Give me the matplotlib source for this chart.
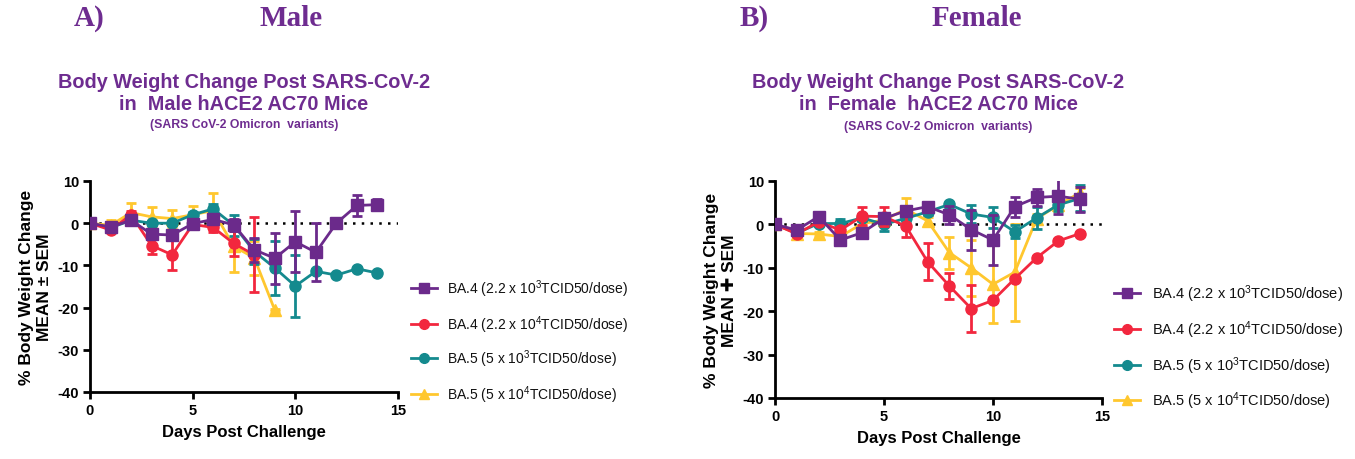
import matplotlib
matplotlib.use("Agg")
import matplotlib.pyplot as plt
import numpy as np
from matplotlib.lines import Line2D

plt.rcParams['font.family'] = ['Liberation Sans', 'DejaVu Sans']
plt.rcParams['mathtext.fontset'] = 'custom'
plt.rcParams['mathtext.rm'] = 'Liberation Sans'
plt.rcParams['mathtext.it'] = 'Liberation Sans:italic'
plt.rcParams['mathtext.bf'] = 'Liberation Sans:bold'
plt.rcParams['axes.unicode_minus'] = False

days = list(range(15))

labels = [r"BA.4 (2.2 x 10$^{3}$TCID50/dose)",
          r"BA.4 (2.2 x 10$^{4}$TCID50/dose)",
          r"BA.5 (5 x 10$^{3}$TCID50/dose)",
          r"BA.5 (5 x 10$^{4}$TCID50/dose)"]

# ---- Male data ----
male_ba4_low = [0, -0.9, 0.7, -2.6, -2.8, -0.1, 0.9, -0.4, -6.3, -8.3, -4.4, -6.9, 0.0, 4.2, 4.4]
male_ba4_low_err = [0, 0.5, 0.8, 1.0, 1.0, 0.8, 0.8, 1.5, 2.9, 6.0, 7.2, 6.9, 0.3, 2.5, 1.3]
male_ba4_high = [0, -1.6, 2.0, -5.3, -7.5, -0.3, -1.0, -4.8, -7.5]
male_ba4_high_err = [0, 0.6, 1.0, 2.0, 3.5, 0.8, 1.0, 3.0, 8.9]
male_ba5_low = [0, -1.1, 0.7, 0.0, 0.0, 2.0, 3.4, -0.5, -6.7, -10.6, -14.9, -11.4, -12.3, -10.8, -11.8]
male_ba5_low_err = [0, 0.5, 0.5, 0.5, 0.5, 0.6, 1.2, 2.5, 3.0, 6.5, 7.4, 0.5, 0.3, 0.3, 0.3]
male_ba5_high = [0, -0.5, 2.5, 1.5, 1.1, 2.0, 3.0, -5.5, -8.2, -20.6]
male_ba5_high_err = [0, 1.3, 2.3, 2.3, 2.0, 2.0, 4.2, 6.0, 4.0, 0.3]

# ---- Female data ----
fem_ba4_low = [0, -1.3, 1.8, -3.6, -1.9, 1.4, 3.1, 4.1, 2.2, -1.2, -3.6, 4.1, 6.2, 6.5, 5.8]
fem_ba4_low_err = [0, 0.5, 0.6, 0.8, 0.8, 0.8, 1.0, 1.0, 2.0, 4.6, 5.8, 2.3, 2.0, 4.0, 2.9]
fem_ba4_high = [0, -2.2, 0.6, -1.3, 1.9, 1.8, -0.4, -8.6, -14.2, -19.4, -17.5, -12.5, -7.7, -3.8, -2.1]
fem_ba4_high_err = [0, 0.5, 0.5, 0.8, 2.0, 2.2, 2.5, 4.3, 3.0, 5.5, 0.4, 0.4, 0.4, 0.4, 0.4]
fem_ba5_low = [0, -2.0, 0.2, 0.2, 1.5, 0.0, 1.4, 2.9, 4.6, 2.4, 1.6, -1.7, 1.5, 4.5, 6.0]
fem_ba5_low_err = [0, 0.5, 0.5, 1.0, 0.8, 1.5, 1.0, 0.8, 0.5, 2.0, 2.5, 1.5, 2.5, 1.5, 3.0]
fem_ba5_high = [0, -2.1, -2.2, -2.8, 0.2, 1.0, 3.5, 0.8, -6.5, -10.0, -13.8, -11.0, 1.3, 4.5, 7.3]
fem_ba5_high_err = [0, 0.5, 0.5, 0.5, 0.5, 1.0, 2.5, 1.0, 3.7, 6.4, 9.0, 11.2, 1.0, 1.5, 1.0]

colors = ['#6B2A8B', '#F2273E', '#148A8E', '#FFC72E']
markers = ['s', 'o', 'o', '^']
msizes = [8.5, 8, 8, 8]
title_color = '#6E2C90'

fig = plt.figure(figsize=(13.55, 4.6), dpi=100)

def draw_panel(ax, series, errs, ylabel):
    # draw order: yellow, teal, red, purple
    order = [3, 2, 1, 0]
    for i in order:
        y = series[i]
        x = days[:len(y)]
        ax.errorbar(x, y, yerr=errs[i], color=colors[i], marker=markers[i],
                    markersize=msizes[i], linewidth=2, elinewidth=2,
                    capsize=3.5, capthick=2, zorder=3 + (3 - i))
    ax.plot([0, 15], [0, 0], color='black', linestyle=(0, (1, 2.5)),
            linewidth=1.8, zorder=2)
    ax.set_xlim(0, 15)
    ax.set_ylim(-40, 10)
    ax.set_xticks([0, 5, 10, 15])
    ax.set_yticks([10, 0, -10, -20, -30, -40])
    for s in ['top', 'right']:
        ax.spines[s].set_visible(False)
    for s in ['left', 'bottom']:
        ax.spines[s].set_linewidth(2)
    ax.tick_params(width=2, length=5, labelsize=10.5, pad=3)
    for t in ax.get_xticklabels() + ax.get_yticklabels():
        t.set_fontweight('bold')
    ax.set_xlabel('Days Post Challenge', fontsize=12, fontweight='bold', labelpad=5)
    ax.set_ylabel(ylabel, fontsize=12.5, fontweight='bold', labelpad=4)
    ax.margins(0)
    for sp in ax.spines.values():
        sp.set_clip_on(False)

# Male panel
ax1 = fig.add_axes([90 / 1355, 1 - 393 / 460, 308 / 1355, 211 / 460])
draw_panel(ax1, [male_ba4_low, male_ba4_high, male_ba5_low, male_ba5_high],
           [male_ba4_low_err, male_ba4_high_err, male_ba5_low_err, male_ba5_high_err],
           '% Body Weight Change\nMEAN \u00b1 SEM')

# Female panel
ax2 = fig.add_axes([775 / 1355, 1 - 399 / 460, 327 / 1355, 217 / 460])
draw_panel(ax2, [fem_ba4_low, fem_ba4_high, fem_ba5_low, fem_ba5_high],
           [fem_ba4_low_err, fem_ba4_high_err, fem_ba5_low_err, fem_ba5_high_err],
           '% Body Weight Change\nMEAN \u271a SEM')

def legend(x_marker, y_rows, x_text, fs):
    for i in range(4):
        yf = 1 - y_rows[i] / 460
        ln = Line2D([x_marker[0] / 1355, x_marker[1] / 1355], [yf, yf],
                    color=colors[i], linewidth=2, transform=fig.transFigure)
        fig.add_artist(ln)
        mk = Line2D([(x_marker[0] + x_marker[1]) / 2 / 1355], [yf], color=colors[i],
                    marker=markers[i], markersize=msizes[i] - 1, linestyle='none',
                    transform=fig.transFigure)
        fig.add_artist(mk)
        fig.text(x_text / 1355, yf, labels[i], fontsize=fs, va='center', ha='left',
                 color='#111111')

legend((411, 437), [289, 325, 359, 395], 447, 10)
legend((1114, 1140), [294, 330, 366, 401], 1152, 10.5)

# Headings
for xh, txt in [(89, 'A)'), (291, 'Male'), (754, 'B)'), (977, 'Female')]:
    fig.text(xh / 1355, 1 - 18 / 460, txt, family='Liberation Serif', fontweight='bold',
             fontsize=21, color=title_color, ha='center', va='center')

# Chart titles
for xc, line2, ysub in [(244, 'in  Male hACE2 AC70 Mice', 125),
                        (938, 'in  Female  hACE2 AC70 Mice', 127)]:
    fig.text(xc / 1355, 1 - 82 / 460, 'Body Weight Change Post SARS-CoV-2',
             fontsize=14.3, fontweight='bold', color=title_color, ha='center', va='center')
    fig.text(xc / 1355, 1 - 105 / 460, line2,
             fontsize=14.3, fontweight='bold', color=title_color, ha='center', va='center')
    fig.text(xc / 1355, 1 - ysub / 460, '(SARS CoV-2 Omicron  variants)',
             fontsize=8.8, fontweight='bold', color=title_color, ha='center', va='center')

fig.savefig('out.png', dpi=100)
